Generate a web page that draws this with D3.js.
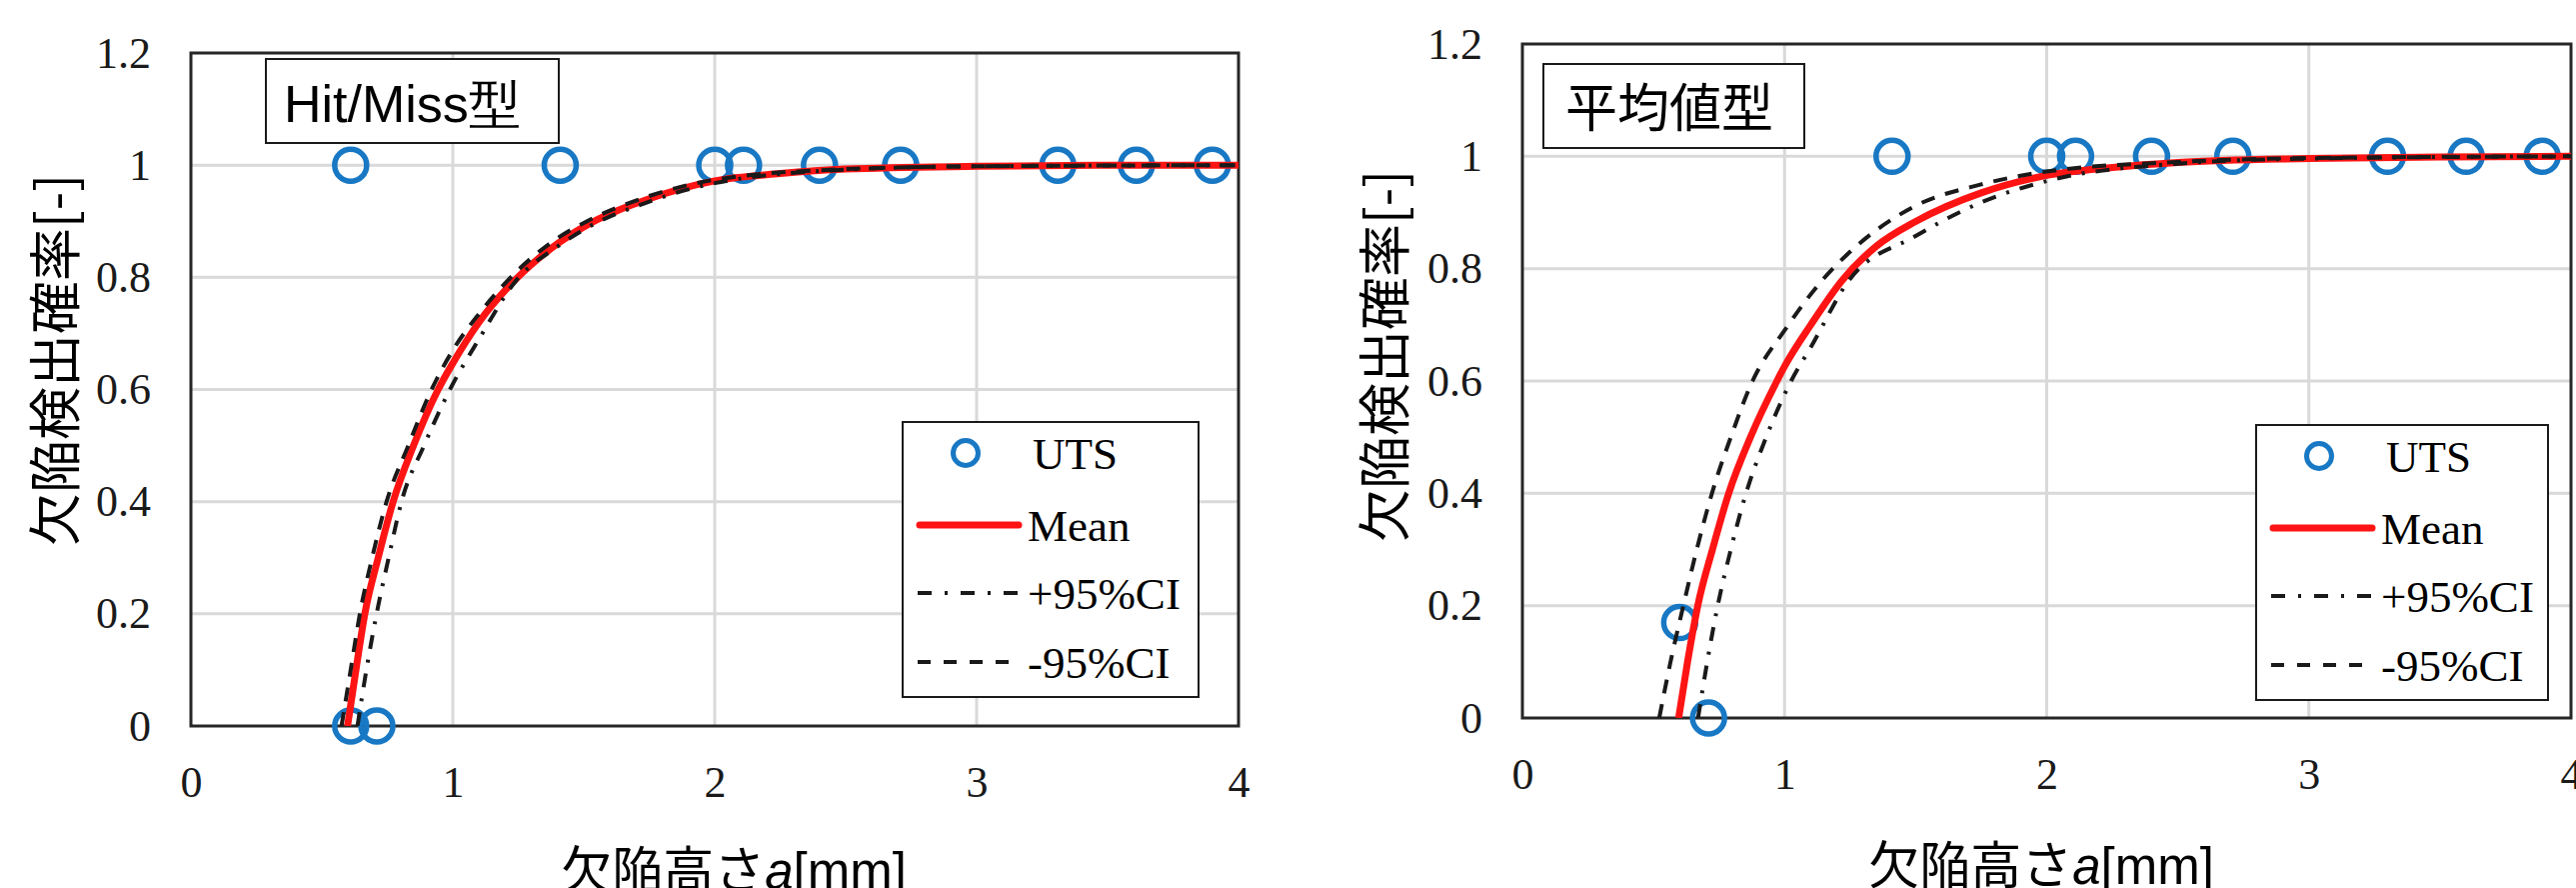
<!DOCTYPE html>
<html>
<head>
<meta charset="utf-8">
<script src="https://cdn.jsdelivr.net/npm/d3@7"></script>
<style>
  html, body { margin: 0; padding: 0; background: #fff; }
  svg { display: block; }
</style>
</head>
<body>
<svg id="chart" width="2577" height="888"></svg>
<script>
// ---------- DATA ----------
const xTickValues = [0, 1, 2, 3, 4];
const yTickValues = [0, 0.2, 0.4, 0.6, 0.8, 1.0, 1.2];
const yTickLabels = ["0", "0.2", "0.4", "0.6", "0.8", "1", "1.2"];
const xTickLabels = ["0", "1", "2", "3", "4"];

const panelTitles = ["Hit/Miss型", "平均値型"];
const yAxisTitle = "欠陥検出確率[-]";
const xAxisTitleJa = "欠陥高さ";
const xAxisTitleVar = "a";
const xAxisTitleUnit = "[mm]";
const legendLabels = ["UTS", "Mean", "+95%CI", "-95%CI"];

// Hit/Miss panel: observed points (defect height, detected 0/1)
const hmPointsX = [0.61, 1.41, 2.0, 2.11, 2.4, 2.71, 3.31, 3.61, 3.9, 0.61, 0.71];
const hmPointsY = [1, 1, 1, 1, 1, 1, 1, 1, 1, 0, 0];

// Hit/Miss panel curves
const hmMeanX = [0.598, 0.63, 0.664, 0.715, 0.772, 0.85, 0.944, 1.0, 1.1, 1.237, 1.4, 1.5, 1.75, 2.0, 2.25, 2.5, 3.0, 3.5, 4.0];
const hmMeanY = [0, 0.1, 0.2, 0.3, 0.4, 0.5, 0.6, 0.647, 0.72, 0.795, 0.86, 0.89, 0.94, 0.972, 0.985, 0.993, 0.998, 1.0, 1.0];
const hmUpperX = [0.636, 0.67, 0.709, 0.755, 0.804, 0.89, 0.989, 1.1, 1.243, 1.4, 1.5, 1.75, 2.0, 2.5, 3.0, 4.0];
const hmUpperY = [0, 0.1, 0.2, 0.3, 0.4, 0.5, 0.6, 0.69, 0.795, 0.855, 0.885, 0.935, 0.968, 0.992, 0.998, 1.0];
const hmLowerX = [0.575, 0.61, 0.645, 0.692, 0.747, 0.83, 0.919, 1.0, 1.1, 1.211, 1.4, 1.5, 1.75, 2.0, 2.5, 3.0, 4.0];
const hmLowerY = [0, 0.1, 0.2, 0.3, 0.4, 0.5, 0.6, 0.67, 0.735, 0.795, 0.87, 0.897, 0.945, 0.974, 0.993, 0.998, 1.0];

// Average-value panel: observed points
const avPointsX = [0.6, 0.71, 1.41, 2.0, 2.11, 2.4, 2.71, 3.3, 3.6, 3.89];
const avPointsY = [0.17, 0, 1, 1, 1, 1, 1, 1, 1, 1];

// Average-value panel curves
const avMeanX = [0.596, 0.63, 0.669, 0.725, 0.787, 0.87, 0.971, 1.0, 1.1, 1.221, 1.35, 1.5, 1.75, 2.0, 2.25, 2.5, 3.0, 3.5, 4.0];
const avMeanY = [0, 0.1, 0.2, 0.3, 0.4, 0.5, 0.6, 0.626, 0.7, 0.78, 0.84, 0.884, 0.935, 0.966, 0.98, 0.989, 0.996, 0.999, 1.0];
const avUpperX = [0.67, 0.705, 0.745, 0.795, 0.853, 0.93, 1.025, 1.1, 1.247, 1.5, 1.75, 2.0, 2.5, 3.0, 4.0];
const avUpperY = [0, 0.1, 0.2, 0.3, 0.4, 0.5, 0.6, 0.66, 0.78, 0.858, 0.918, 0.956, 0.987, 0.996, 1.0];
const avLowerX = [0.522, 0.565, 0.614, 0.665, 0.723, 0.795, 0.878, 1.0, 1.145, 1.25, 1.5, 1.75, 2.0, 2.5, 3.0, 4.0];
const avLowerY = [0, 0.1, 0.2, 0.3, 0.4, 0.5, 0.6, 0.69, 0.78, 0.83, 0.912, 0.95, 0.973, 0.99, 0.997, 1.0];

// ---------- DRAWING ----------
const svg = d3.select("#chart");
const zip = (xs, ys) => xs.map((x, i) => [x, ys[i]]);

const BLUE = "#1878c4";
const RED = "#ff1414";
const INK = "#1a1a1a";
const GRID = "#d9d9d9";
const SERIF = "'Liberation Serif', 'Times New Roman', serif";
const CJK = "'Noto Sans CJK JP', 'Noto Sans', sans-serif";
const SANS = "'Liberation Sans', Arial, sans-serif";

const panels = [
  {
    id: "hm", title: panelTitles[0],
    plot: { left: 191, right: 1239, bottom: 726, top: 53 },
    points: zip(hmPointsX, hmPointsY),
    mean: zip(hmMeanX, hmMeanY), upper: zip(hmUpperX, hmUpperY), lower: zip(hmLowerX, hmLowerY),
    titleBox: { x: 266, y: 59, w: 293, h: 84, tx: 284, ty: 122, font: SANS },
    legend: { x: 903, y: 422, w: 296, h: 275 },
    yTitle: { x: 52, y: 360 }, xTitle: { x: 734, y: 889 }
  },
  {
    id: "av", title: panelTitles[1],
    plot: { left: 1523, right: 2572, bottom: 718, top: 44 },
    points: zip(avPointsX, avPointsY),
    mean: zip(avMeanX, avMeanY), upper: zip(avUpperX, avUpperY), lower: zip(avLowerX, avLowerY),
    titleBox: { x: 1544, y: 64, w: 261, h: 84, tx: 1566, ty: 127, font: CJK },
    legend: { x: 2257, y: 425, w: 292, h: 275 },
    yTitle: { x: 1382, y: 356 }, xTitle: { x: 2042, y: 884 }
  }
];

panels.forEach(p => {
  const g = svg.append("g").attr("class", "panel-" + p.id);
  const x = d3.scaleLinear().domain([0, 4]).range([p.plot.left, p.plot.right]);
  const y = d3.scaleLinear().domain([0, 1.2]).range([p.plot.bottom, p.plot.top]);

  // grid lines
  g.append("g").selectAll("line.hg")
    .data(yTickValues.filter(v => v > 0 && v < 1.2))
    .join("line")
    .attr("x1", x(0)).attr("x2", x(4))
    .attr("y1", d => y(d)).attr("y2", d => y(d))
    .attr("stroke", GRID).attr("stroke-width", 3);
  g.append("g").selectAll("line.vg")
    .data(xTickValues.filter(v => v > 0 && v < 4))
    .join("line")
    .attr("x1", d => x(d)).attr("x2", d => x(d))
    .attr("y1", y(0)).attr("y2", y(1.2))
    .attr("stroke", GRID).attr("stroke-width", 3);

  // axes with tick labels (no tick marks)
  const yAxis = d3.axisLeft(y).tickValues(yTickValues)
    .tickFormat((d, i) => yTickLabels[i]).tickSize(0).tickPadding(40);
  const ya = g.append("g").attr("transform", `translate(${x(0)},0)`).call(yAxis);
  const xAxis = d3.axisBottom(x).tickValues(xTickValues)
    .tickFormat((d, i) => xTickLabels[i]).tickSize(0).tickPadding(40);
  const xa = g.append("g").attr("transform", `translate(0,${y(0)})`).call(xAxis);
  [ya, xa].forEach(a => {
    a.attr("font-family", SERIF).attr("font-size", 44);
    a.select(".domain").remove();
    a.selectAll("text").style("font-family", SERIF).style("font-size", "44px").attr("fill", INK);
  });
  xa.selectAll("text").attr("dy", "0.71em");

  // plot border
  g.append("rect")
    .attr("x", x(0)).attr("y", y(1.2))
    .attr("width", x(4) - x(0)).attr("height", y(0) - y(1.2))
    .attr("fill", "none").attr("stroke", "#262626").attr("stroke-width", 3);

  // clip
  const clipId = "clip-" + p.id;
  svg.append("clipPath").attr("id", clipId)
    .append("rect").attr("x", x(0)).attr("y", y(1.2) - 10)
    .attr("width", x(4) - x(0)).attr("height", y(0) - y(1.2) + 10);

  // markers
  g.append("g").selectAll("circle")
    .data(p.points).join("circle")
    .attr("cx", d => x(d[0])).attr("cy", d => y(d[1]))
    .attr("r", 16).attr("fill", "none")
    .attr("stroke", BLUE).attr("stroke-width", 5.5);

  const line = d3.line().x(d => x(d[0])).y(d => y(d[1])).curve(d3.curveMonotoneX);
  const lines = g.append("g").attr("clip-path", `url(#${clipId})`);
  lines.append("path").datum(p.mean).attr("d", line)
    .attr("fill", "none").attr("stroke", RED).attr("stroke-width", 7);
  lines.append("path").datum(p.upper).attr("d", line)
    .attr("fill", "none").attr("stroke", INK).attr("stroke-width", 4)
    .attr("stroke-dasharray", "14,11,3,11");
  lines.append("path").datum(p.lower).attr("d", line)
    .attr("fill", "none").attr("stroke", INK).attr("stroke-width", 4)
    .attr("stroke-dasharray", "14,11");

  // panel title box
  const tb = p.titleBox;
  g.append("rect").attr("x", tb.x).attr("y", tb.y).attr("width", tb.w).attr("height", tb.h)
    .attr("fill", "#fff").attr("stroke", INK).attr("stroke-width", 2);
  g.append("text").attr("x", tb.tx).attr("y", tb.ty)
    .attr("font-family", tb.font).attr("font-size", 52).attr("fill", "#000")
    .text(p.title);

  // legend
  const L = p.legend;
  const lg = g.append("g");
  lg.append("rect").attr("x", L.x).attr("y", L.y).attr("width", L.w).attr("height", L.h)
    .attr("fill", "#fff").attr("stroke", INK).attr("stroke-width", 2);
  const rowY = [31, 103, 171, 240];
  const sx0 = L.x + 15, sx1 = L.x + 118, tx = L.x + 128;
  lg.append("circle").attr("cx", L.x + 63).attr("cy", L.y + rowY[0])
    .attr("r", 12.5).attr("fill", "none").attr("stroke", BLUE).attr("stroke-width", 5);
  lg.append("line").attr("x1", sx0 + 2).attr("x2", sx1 - 2)
    .attr("y1", L.y + rowY[1]).attr("y2", L.y + rowY[1])
    .attr("stroke", RED).attr("stroke-width", 7).attr("stroke-linecap", "round");
  lg.append("line").attr("x1", sx0).attr("x2", sx1)
    .attr("y1", L.y + rowY[2]).attr("y2", L.y + rowY[2])
    .attr("stroke", INK).attr("stroke-width", 4).attr("stroke-dasharray", "14,13,3,13");
  lg.append("line").attr("x1", sx0).attr("x2", sx1)
    .attr("y1", L.y + rowY[3]).attr("y2", L.y + rowY[3])
    .attr("stroke", INK).attr("stroke-width", 4).attr("stroke-dasharray", "13,13");
  lg.selectAll("text.lt").data(legendLabels).join("text")
    .attr("x", (d, i) => i === 0 ? tx + 2 : tx - 3)
    .attr("y", (d, i) => L.y + rowY[i] + 16)
    .attr("font-family", SERIF).attr("font-size", 45).attr("fill", "#000")
    .text(d => d);

  // axis titles
  g.append("text")
    .attr("transform", `translate(${p.yTitle.x},${p.yTitle.y}) rotate(-90)`)
    .attr("text-anchor", "middle").attr("dominant-baseline", "central")
    .attr("font-family", CJK).attr("font-size", 53).attr("fill", "#000")
    .text(yAxisTitle);
  const xt = g.append("text")
    .attr("x", p.xTitle.x).attr("y", p.xTitle.y)
    .attr("text-anchor", "middle")
    .attr("font-family", CJK).attr("font-size", 51).attr("fill", "#000");
  xt.append("tspan").text(xAxisTitleJa);
  xt.append("tspan").attr("font-family", SANS).attr("font-style", "italic").text(xAxisTitleVar);
  xt.append("tspan").attr("font-family", SANS).text(xAxisTitleUnit);
});
</script>
</body>
</html>
